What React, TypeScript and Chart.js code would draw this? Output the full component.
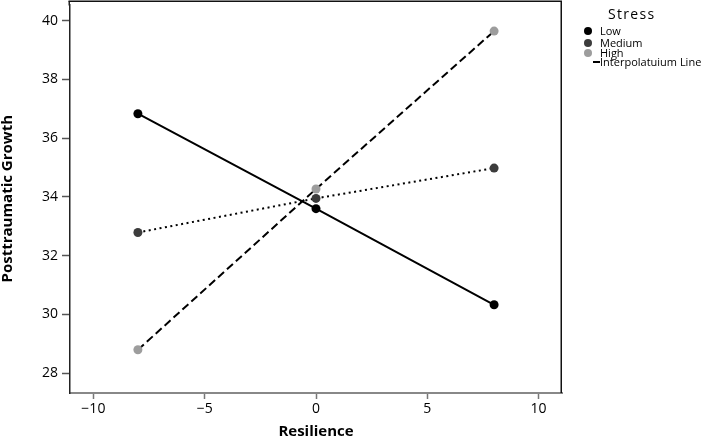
import React, { useEffect, useRef } from "react";
import { Chart, registerables } from "chart.js";

Chart.register(...registerables);

const xValues = [-8, 0, 8];
const lowValues = [36.83, 33.6, 30.33];
const mediumValues = [32.79, 33.95, 34.98];
const highValues = [28.8, 34.27, 39.64];
const seriesNames = ["Low", "Medium", "High"];
const xTicks = [-10, -5, 0, 5, 10];
const yTicks = [28, 30, 32, 34, 36, 38, 40];

const FONT = "'Open Sans', 'Noto Sans', sans-serif";

const boxPlugin = {
  id: "boxPlugin",
  afterDraw(chart: any) {
    const { ctx, chartArea } = chart;
    const top = Math.max(chartArea.top - 4, 0) + 0.75;
    ctx.save();
    ctx.lineWidth = 1.5;
    ctx.strokeStyle = "#222";
    ctx.beginPath();
    ctx.moveTo(chartArea.left - 0.75, chartArea.top + 1);
    ctx.lineTo(chartArea.left - 0.75, top);
    ctx.stroke();
    ctx.strokeStyle = "#111";
    ctx.beginPath();
    ctx.moveTo(chartArea.left - 1.5, top);
    ctx.lineTo(chartArea.right - 0.75, top);
    ctx.lineTo(chartArea.right - 0.75, chartArea.bottom);
    ctx.stroke();
    ctx.restore();
  },
};

const minusFmt = (v: any) => String(v).replace("-", "\u2212");

export default function App() {
  const ref = useRef<HTMLCanvasElement>(null);
  useEffect(() => {
    if (!ref.current) return;
    const mk = (vals: number[]) => xValues.map((x, i) => ({ x, y: vals[i] }));
    const chart = new Chart(ref.current, {
      type: "scatter",
      data: {
        datasets: [
          {
            label: seriesNames[0],
            data: mk(lowValues),
            showLine: true,
            borderColor: "#000",
            borderWidth: 2,
            backgroundColor: "#000",
            pointBackgroundColor: "#000",
            pointBorderColor: "#000",
            pointRadius: 4.5,
            pointBorderWidth: 0,
          },
          {
            label: seriesNames[1],
            data: mk(mediumValues),
            showLine: true,
            borderColor: "#000",
            borderWidth: 2,
            borderDash: [2, 3.5],
            backgroundColor: "#3c3c3c",
            pointBackgroundColor: "#3c3c3c",
            pointBorderColor: "#3c3c3c",
            pointRadius: 4.5,
            pointBorderWidth: 0,
          },
          {
            label: seriesNames[2],
            data: mk(highValues),
            showLine: true,
            borderColor: "#000",
            borderWidth: 2,
            borderDash: [8, 4],
            backgroundColor: "#9d9d9d",
            pointBackgroundColor: "#9d9d9d",
            pointBorderColor: "#9d9d9d",
            pointRadius: 4.5,
            pointBorderWidth: 0,
          },
        ],
      },
      options: {
        animation: false,
        responsive: false,
        layout: { padding: { top: 1, right: 141, left: 0, bottom: 0 } },
        plugins: { legend: { display: false }, tooltip: { enabled: false } },
        scales: {
          x: {
            type: "linear",
            min: -11.05,
            max: 11.05,
            afterFit: (s: any) => {
              s.height = 46;
              s.paddingLeft = 0;
              s.paddingRight = 0;
            },
            afterBuildTicks: (s: any) => {
              s.ticks = xTicks.map((v) => ({ value: v }));
            },
            ticks: {
              includeBounds: false,
              color: "#000",
              font: { family: FONT, size: 14 },
              padding: 2,
              maxRotation: 0,
              callback: minusFmt,
            },
            grid: {
              drawOnChartArea: false,
              drawTicks: true,
              tickLength: 6,
              tickColor: "#777",
              tickWidth: 1.5,
            },
            border: { display: true, color: "#888", width: 2 },
            title: {
              display: true,
              text: "Resilience",
              color: "#000",
              font: { family: FONT, size: 15, weight: "bold", lineHeight: 1 },
              padding: { top: 0, bottom: 0 },
            },
          },
          y: {
            type: "linear",
            min: 27.33,
            max: 40.545,
            afterFit: (s: any) => {
              s.width = 70;
              s.paddingTop = 0;
              s.paddingBottom = 0;
            },
            afterBuildTicks: (s: any) => {
              s.ticks = yTicks.map((v) => ({ value: v }));
            },
            ticks: {
              includeBounds: false,
              color: "#000",
              font: { family: FONT, size: 14 },
              padding: 4,
            },
            grid: {
              drawOnChartArea: false,
              drawTicks: true,
              tickLength: 8,
              tickColor: "#555",
              tickWidth: 1.5,
            },
            border: { display: true, color: "#222", width: 1.5 },
            title: {
              display: true,
              text: "Posttraumatic Growth",
              color: "#000",
              font: { family: FONT, size: 15, weight: "bold", lineHeight: 1.07 },
              padding: { top: 0, bottom: 0 },
            },
          },
        },
      },
      plugins: [boxPlugin],
    });
    return () => chart.destroy();
  }, []);

  const legendItems = [
    { name: seriesNames[0], color: "#000", top: 31 },
    { name: seriesNames[1], color: "#3c3c3c", top: 42.5 },
    { name: seriesNames[2], color: "#9d9d9d", top: 52.5 },
  ];

  return (
    <div
      style={{
        position: "fixed",
        left: 0,
        top: 0,
        width: 703,
        height: 439,
        background: "#fff",
        fontFamily: FONT,
      }}
    >
      <canvas ref={ref} width={703} height={439} style={{ display: "block" }} />
      <div
        style={{
          position: "absolute",
          left: 608,
          top: 5,
          fontSize: 14,
          letterSpacing: 1.3,
          lineHeight: "18px",
          color: "#000",
        }}
      >
        Stress
      </div>
      {legendItems.map((it) => (
        <React.Fragment key={it.name}>
          <div
            style={{
              position: "absolute",
              left: 584,
              top: it.top - 4,
              width: 8,
              height: 8,
              borderRadius: "50%",
              background: it.color,
            }}
          />
          <div
            style={{
              position: "absolute",
              left: 600,
              top: it.top - 8,
              fontSize: 11,
              lineHeight: "15px",
              color: "#000",
            }}
          >
            {it.name}
          </div>
        </React.Fragment>
      ))}
      <div
        style={{
          position: "absolute",
          left: 593,
          top: 61,
          width: 7,
          height: 1.5,
          background: "#000",
        }}
      />
      <div
        style={{
          position: "absolute",
          left: 600,
          top: 54,
          fontSize: 11,
          lineHeight: "15px",
          color: "#000",
          whiteSpace: "nowrap",
        }}
      >
        Interpolatuium Line
      </div>
    </div>
  );
}
